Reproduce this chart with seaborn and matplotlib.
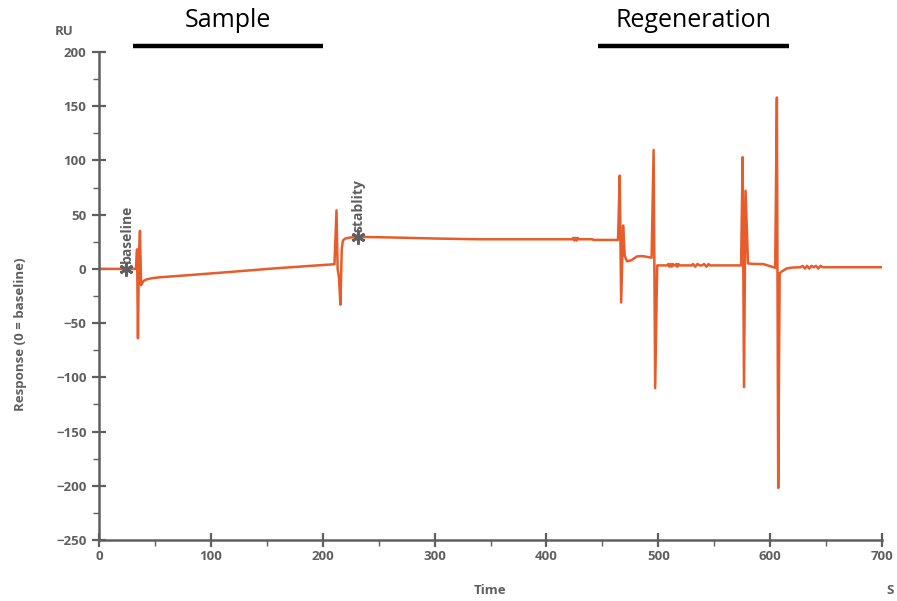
import matplotlib
matplotlib.use("Agg")
import matplotlib.pyplot as plt
import matplotlib.transforms as mtransforms
from matplotlib.ticker import MultipleLocator
import seaborn as sns

# Sensorgram: time in s, response in RU
time = [0, 33, 34.0, 34.8, 35.6, 36.6, 37.6, 38.6, 40, 43, 48, 55, 64, 80, 120, 160, 210.5,
        212.3, 213.3, 214.5, 215.8, 217, 218, 220, 225, 232, 260, 300, 340, 423,
        424, 425, 426, 427, 428, 429, 441, 442, 464,
        465.5, 466.8, 468.5, 470, 472, 476, 481, 486, 494,
        495.8, 497.2, 499, 508,
        509, 510, 511, 512, 513, 514, 515, 516, 517, 518, 519, 530,
        531, 533, 535, 537, 539, 541, 543, 545, 546, 574,
        575.4, 576.6, 578, 580.2, 584, 594, 603, 604.5,
        606, 607.2, 608.5, 611, 615, 620, 627,
        629, 631, 633, 635, 637, 639, 641, 643, 645, 647, 700]
response = [0, 0, 18, -64, 10, 35, -15, -13, -11, -9.5, -8.5, -7.7, -7.0, -5.8, -2.6, 0.7, 4.3,
            54, 0, -8, -33, 18, 26, 28, 29, 29.5, 29, 28, 27.3, 27.3,
            28.6, 26.1, 28.6, 26.1, 28.6, 27.3, 27.3, 26.7, 26.7,
            86, -31, 40, 12, 7, 8, 11.5, 11.8, 10.3,
            109.6, -110, 3.2, 3.2,
            4.5, 2.0, 4.5, 2.0, 4.5, 3.2, 3.2, 4.5, 2.0, 4.5, 3.2, 3.2,
            4.5, 2.0, 4.5, 3.2, 3.2, 4.5, 2.0, 4.5, 3.2, 3.2,
            103, -109, 72, 5, 4.6, 4.4, 1.5, 1,
            158, -202, -4, -2, 0.5, 1.2, 1.5,
            2.8, 0.3, 2.8, 0.3, 2.8, 1.5, 2.8, 0.3, 2.8, 1.5, 1.5]

# report points
flag_times = [24, 231.5]
flag_values = [0, 29]
flag_labels = ["baseline", "stablity"]

# phase bars above the plot
phase_names = ["Sample", "Regeneration"]
phase_start = [30.4, 446]
phase_end = [200.2, 617]

x_ticks = [0, 100, 200, 300, 400, 500, 600, 700]
y_ticks = [-250, -200, -150, -100, -50, 0, 50, 100, 150, 200]

sns.set_style("white")
plt.rcParams["font.family"] = ["Open Sans", "DejaVu Sans"]

grey = "#5f5f5f"
fig = plt.figure(figsize=(8.97, 6.01), dpi=100)
ax = fig.add_axes([0.1104, 0.1015, 0.8729, 0.812])

sns.lineplot(x=time, y=response, sort=False, estimator=None, color="#e85c2b",
             linewidth=1.8, ax=ax)

for t, v, lab in zip(flag_times, flag_values, flag_labels):
    ax.plot([t], [v], marker=(6, 2, 0), markersize=10, color=grey, mew=2, zorder=5)
    ax.text(t + 0.5, v + 5, lab, rotation=90, ha="center", va="bottom",
            fontsize=10, fontweight="bold", color=grey)

ax.set_xlim(0, 700)
ax.set_ylim(-250, 200)
ax.set_xticks(x_ticks)
ax.set_yticks(y_ticks)
ax.xaxis.set_minor_locator(MultipleLocator(50))
ax.yaxis.set_minor_locator(MultipleLocator(25))
ax.tick_params(which="both", bottom=True, left=True)
ax.tick_params(which="major", direction="inout", length=10, width=1.6, colors=grey,
               labelsize=9.5, pad=2)
ax.tick_params(which="minor", direction="out", length=4, width=1, colors=grey)
for lab in ax.get_xticklabels() + ax.get_yticklabels():
    lab.set_fontweight("bold")
ax.tick_params(axis="y", pad=4)

for s in ["top", "right"]:
    ax.spines[s].set_visible(False)
for s in ["left", "bottom"]:
    ax.spines[s].set_color(grey)
    ax.spines[s].set_linewidth(1.8)

ax.text(-0.0447, 1.041, "RU", transform=ax.transAxes, ha="center", va="center",
        fontsize=9.5, fontweight="bold", color=grey)
ax.text(0.4994, -0.1045, "Time", transform=ax.transAxes, ha="center", va="center",
        fontsize=9.5, fontweight="bold", color=grey)
ax.text(1.0102, -0.1045, "S", transform=ax.transAxes, ha="center", va="center",
        fontsize=9.5, fontweight="bold", color=grey)
ax.text(-0.1009, 0.422, "Response (0 = baseline)", transform=ax.transAxes, rotation=90,
        ha="center", va="center", fontsize=9.5, fontweight="bold", color=grey)

trans = mtransforms.blended_transform_factory(ax.transData, ax.transAxes)
for name, a, b in zip(phase_names, phase_start, phase_end):
    ax.plot([a, b], [1.012, 1.012], transform=trans, color="black", linewidth=3.2,
            clip_on=False, solid_capstyle="butt")
    ax.text((a + b) / 2, 1.065, name, transform=trans, ha="center", va="center",
            fontsize=18, color="black")

fig.savefig("out.png", dpi=100)
